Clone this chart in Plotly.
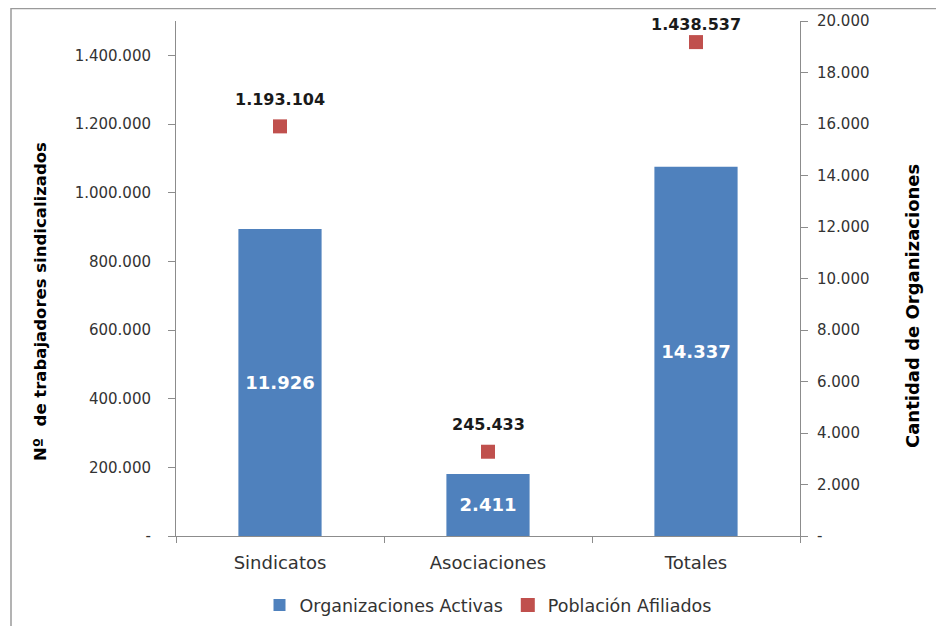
import plotly.graph_objects as go

categories = ["Sindicatos", "Asociaciones", "Totales"]
organizaciones = [11926, 2411, 14337]
afiliados = [1193104, 245433, 1438537]

left_tickvals = [0, 200000, 400000, 600000, 800000, 1000000, 1200000, 1400000]
left_ticktext = ["-", "200.000", "400.000", "600.000", "800.000", "1.000.000", "1.200.000", "1.400.000"]
right_tickvals = [0, 2000, 4000, 6000, 8000, 10000, 12000, 14000, 16000, 18000, 20000]
right_ticktext = ["-", "2.000", "4.000", "6.000", "8.000", "10.000", "12.000", "14.000", "16.000", "18.000", "20.000"]

left_title = "Nº  de trabajadores sindicalizados"
right_title = "Cantidad de Organizaciones"


def fmt(v):
    return f"{v:,}".replace(",", ".")


# page body has an 8px margin; work in reference pixel coords and offset
OFF = 8
W, H = 944 - 2 * OFF, 634 - 2 * OFF
L, R, T, B = 176 - OFF, 800 - OFF, 21 - OFF, 536 - OFF
YMAX_L = 1500000


def px(x):
    return (x - OFF - L) / (R - L)


def py(y):
    return (B - (y - OFF)) / (B - T)


FONT = "DejaVu Sans"
fig = go.Figure()
fig.add_trace(go.Bar(
    x=categories, y=organizaciones, name="Organizaciones Activas",
    marker=dict(color="#4F81BD", line=dict(width=0)), width=0.4,
    text=[fmt(v) for v in organizaciones], textposition="inside",
    insidetextanchor="middle",
    textfont=dict(color="white", size=18, family=FONT, weight="bold"),
    yaxis="y2", cliponaxis=False,
))
fig.add_trace(go.Scatter(
    x=categories, y=afiliados, name="Población Afiliados",
    mode="markers",
    marker=dict(symbol="square", size=14, color="#C0504D"),
    yaxis="y", cliponaxis=False,
))

for c, v in zip(categories, afiliados):
    marker_py = B + OFF - v / YMAX_L * (B - T)
    shift = min(27, marker_py - 25)
    fig.add_annotation(x=c, y=v, xref="x", yref="y", text=fmt(v), showarrow=False,
                       yshift=shift, font=dict(size=16, family=FONT, color="#1a1a1a", weight="bold"))

# axis titles as rotated annotations (placed like the reference, not centred on the plot)
fig.add_annotation(x=px(40), y=py(302), xref="paper", yref="paper", text=left_title,
                   textangle=-90, showarrow=False, xanchor="center", yanchor="middle",
                   font=dict(size=16.5, family=FONT, color="black", weight="bold"))
fig.add_annotation(x=px(912), y=py(306), xref="paper", yref="paper", text=right_title,
                   textangle=-90, showarrow=False, xanchor="center", yanchor="middle",
                   font=dict(size=18, family=FONT, color="black", weight="bold"))

fig.update_layout(
    width=W, height=H,
    margin=dict(l=L, r=W - R, t=T, b=H - B, autoexpand=False),
    paper_bgcolor="white", plot_bgcolor="white",
    font=dict(family=FONT, size=15, color="#333333"),
    showlegend=True,
    legend=dict(orientation="h", x=0.5, xanchor="center", y=py(605), yanchor="middle",
                font=dict(size=17.5, color="#333333"), traceorder="normal", itemwidth=30),
    xaxis=dict(
        showline=True, linecolor="#8c8c8c", linewidth=1,
        ticks="outside", tickson="boundaries", ticklen=6, tickcolor="#8c8c8c",
        tickfont=dict(size=18, color="#333333"), showgrid=False, ticklabelstandoff=10,
    ),
    yaxis=dict(
        range=[0, YMAX_L], tickvals=left_tickvals, ticktext=left_ticktext,
        showline=True, linecolor="#8c8c8c", linewidth=1,
        ticks="outside", ticklen=7, tickcolor="#8c8c8c", showgrid=False, zeroline=False,
        tickfont=dict(size=15, color="#333333"), ticklabelstandoff=14,
    ),
    yaxis2=dict(
        range=[0, 20000], tickvals=right_tickvals, ticktext=right_ticktext,
        overlaying="y", side="right",
        showline=True, linecolor="#8c8c8c", linewidth=1,
        ticks="outside", ticklen=7, tickcolor="#8c8c8c", showgrid=False, zeroline=False,
        tickfont=dict(size=15, color="#333333"), ticklabelstandoff=6,
    ),
    shapes=[
        dict(type="line", xref="paper", yref="paper", x0=px(11), x1=px(944), y0=py(8.5), y1=py(8.5),
             line=dict(color="#9a9a9a", width=1.5)),
        dict(type="line", xref="paper", yref="paper", x0=px(11), x1=px(11), y0=py(8), y1=py(634),
             line=dict(color="#9a9a9a", width=1.5)),
    ],
)

fig.write_html("out.html")
